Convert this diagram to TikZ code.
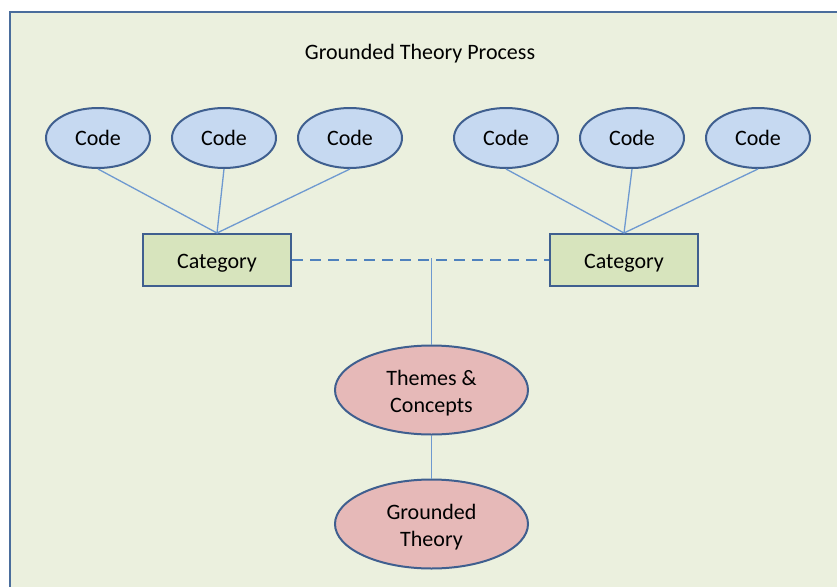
\documentclass[tikz,border=0pt]{standalone}
\usepackage{fontspec}
\setmainfont{Carlito}
\usetikzlibrary{shapes.geometric}
\definecolor{bgc}{HTML}{EBF0DE}
\definecolor{framec}{HTML}{4A6D9C}
\definecolor{edgec}{HTML}{3F5F8F}
\definecolor{codefill}{HTML}{C6D9F1}
\definecolor{catfill}{HTML}{D7E4BD}
\definecolor{pinkfill}{HTML}{E6B9B8}
\definecolor{linkc}{HTML}{6E99D0}
\definecolor{dashc}{HTML}{4F81BD}
\tikzset{
  txt/.style={font=\fontsize{22}{27}\selectfont},
  lbl/.style={label={[txt,align=center,yshift=-3pt]center:#1}},
  codelbl/.style={label={[txt,align=center]center:#1}},
  codenode/.style={ellipse, draw=edgec, line width=2pt, fill=codefill, minimum width=104pt, minimum height=60pt, inner sep=0pt, codelbl=#1},
  catnode/.style={rectangle, draw=edgec, line width=2pt, fill=catfill, minimum width=148pt, minimum height=52pt, inner sep=0pt, lbl=#1},
  pinknode/.style={ellipse, draw=edgec, line width=2pt, fill=pinkfill, minimum width=193pt, minimum height=89pt, inner sep=0pt, lbl={#1}},
  link/.style={draw=linkc, line width=1.3pt},
  dashlink/.style={draw=dashc, line width=1.8pt, dash pattern=on 11pt off 7pt}
}
\begin{document}
\begin{tikzpicture}[x=1pt,y=-1pt]
\useasboundingbox (0,0) rectangle (837,586);
\fill[white] (0,0) rectangle (837,586);
\draw[framec, line width=2pt, fill=bgc] (10,12) rectangle (860,610);
\node[txt] (title) at (420,54) {Grounded Theory Process};
\node[codenode=Code] (c1) at (98,138) {};
\node[codenode=Code] (c2) at (224,138) {};
\node[codenode=Code] (c3) at (350,138) {};
\node[codenode=Code] (c4) at (506,138) {};
\node[codenode=Code] (c5) at (632,138) {};
\node[codenode=Code] (c6) at (758,138) {};
\node[catnode=Category] (cat1) at (217,260) {};
\node[catnode=Category] (cat2) at (624,260) {};
\node[pinknode={{Themes \&\\Concepts}}] (themes) at (431.5,390) {};
\node[pinknode={{Grounded\\Theory}}] (gt) at (431.5,524) {};
\foreach \c in {c1,c2,c3} \draw[link] (\c.south) -- (cat1.north);
\foreach \c in {c4,c5,c6} \draw[link] (\c.south) -- (cat2.north);
\draw[dashlink] (cat1.east) -- (cat2.west);
\coordinate (junc) at ([yshift=2pt]themes.north |- cat1.east);
\draw[link] (junc) -- (themes.north);
\draw[link] (themes.south) -- (gt.north);
\end{tikzpicture}
\end{document}
